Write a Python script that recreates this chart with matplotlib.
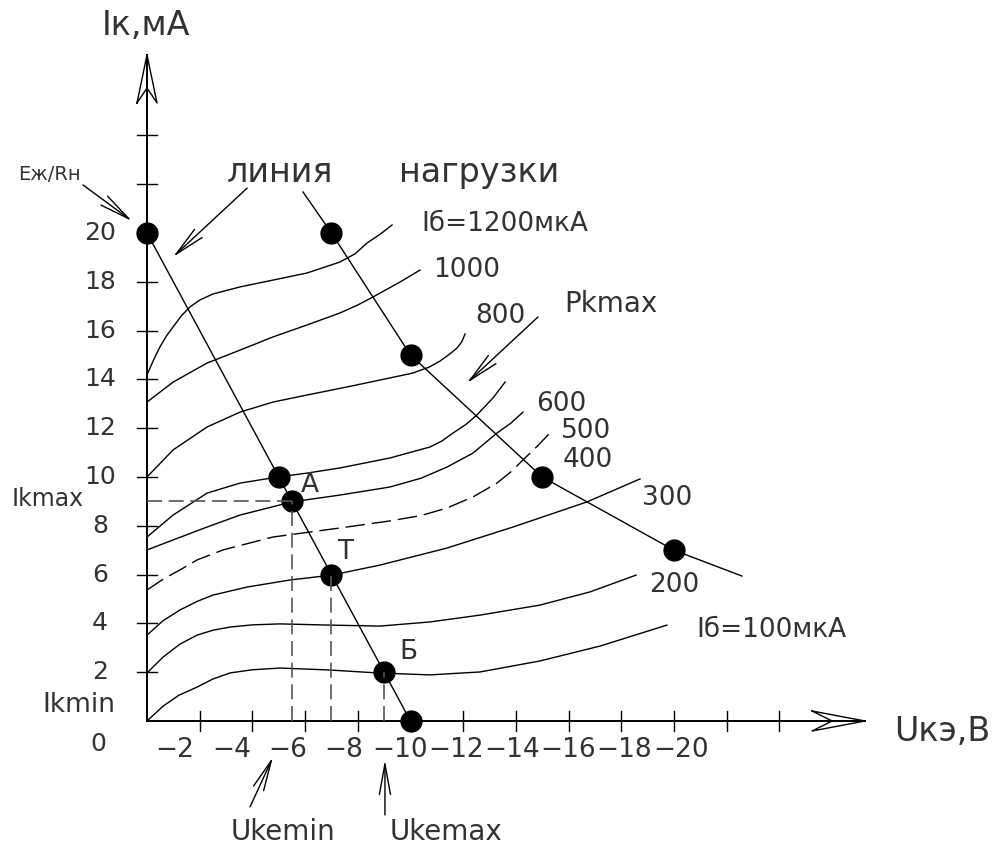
import numpy as np
import matplotlib.pyplot as plt

plt.rcParams['font.family'] = ['DejaVu Sans']

# output characteristics: |Uкэ| in V, Iк in mA, one pair per base current
u_100 = [0, 0.6, 1.2, 1.90, 2.5, 3.15, 4.0, 5.05, 6.94, 8.73, 10.74, 12.64, 14.91, 17.19, 19.73]
i_100 = [0, 0.6, 1.05, 1.39, 1.72, 1.97, 2.1, 2.17, 2.09, 1.97, 1.89, 2.01, 2.46, 3.07, 3.93]

u_200 = [0, 0.61, 1.25, 1.90, 2.5, 3.15, 4.0, 5.05, 6.94, 8.84, 10.74, 12.64, 14.91, 16.81, 18.56]
i_200 = [1.97, 2.62, 3.15, 3.52, 3.72, 3.85, 3.94, 3.98, 3.93, 3.89, 4.06, 4.34, 4.75, 5.29, 5.98]

u_300 = [0, 0.6, 1.25, 1.9, 2.50, 3.80, 5.43, 7.02, 8.84, 11.39, 13.89, 16.70, 18.71]
i_300 = [3.52, 4.1, 4.55, 4.9, 5.16, 5.49, 5.78, 5.98, 6.39, 7.09, 7.95, 8.98, 9.92]

u_400 = [0, 0.68, 1.25, 1.90, 2.88, 4.78, 7.32, 9.22, 10.4, 11.39, 12.4, 13.28, 13.8, 14.27, 14.8, 15.29]
i_400 = [5.37, 5.86, 6.19, 6.60, 7.01, 7.54, 7.91, 8.20, 8.42, 8.73, 9.2, 9.75, 10.2, 10.70, 11.25, 11.80]

u_500 = [0, 0.99, 2.28, 3.53, 5.50, 7.32, 9.22, 10.4, 11.39, 12.37, 13.28, 13.8, 14.27]
i_500 = [7.01, 7.42, 7.95, 8.44, 8.98, 9.26, 9.59, 9.95, 10.41, 10.98, 11.80, 12.2, 12.66]

u_600 = [0, 0.99, 2.28, 3.53, 4.97, 6.07, 7.32, 9.22, 10.74, 11.2, 11.61, 12.1, 12.52, 13.13, 13.59]
i_600 = [7.54, 8.44, 9.34, 9.75, 10.0, 10.16, 10.37, 10.78, 11.23, 11.48, 11.80, 12.15, 12.54, 13.24, 13.89]

u_800 = [0, 0.99, 2.28, 3.53, 4.78, 6.07, 7.59, 9.22, 10.09, 10.7, 11.12, 11.5, 11.77, 11.95, 12.07]
i_800 = [10.0, 11.11, 12.05, 12.66, 13.07, 13.36, 13.69, 14.06, 14.26, 14.5, 14.75, 15.05, 15.29, 15.55, 15.86]

u_1000 = [0, 0.99, 2.28, 3.53, 4.78, 6.07, 7.32, 8.0, 8.58, 9.60, 10.36]
i_1000 = [13.07, 13.89, 14.67, 15.20, 15.74, 16.23, 16.72, 17.05, 17.38, 17.99, 18.48]

u_1200 = [0, 0.25, 0.49, 0.75, 0.99, 1.3, 1.63, 2.0, 2.5, 3.53, 4.78, 6.07, 7.32, 7.9, 8.35, 8.85, 9.30]
i_1200 = [14.18, 14.8, 15.33, 15.8, 16.15, 16.6, 16.97, 17.25, 17.5, 17.79, 18.07, 18.36, 18.81, 19.15, 19.59, 19.95, 20.33]

# load line and its points (Eж/Rн, -, A, T, Б, Eж)
u_load = [0, 10]
i_load = [20, 0]
u_pts = [0, 5, 5.5, 7, 9, 10]
i_pts = [20, 10, 9, 6, 2, 0]

# Pkmax boundary
u_pk = [5.92, 7, 10, 15, 20, 22.58]
i_pk = [21.68, 20, 15, 10, 7, 5.94]

y_ticks = [2, 4, 6, 8, 10, 12, 14, 16, 18, 20, 22, 24]
y_labels = ['2', '4', '6', '8', '10', '12', '14', '16', '18', '20']
x_ticks = [2, 4, 6, 8, 10, 12, 14, 16, 18, 20, 22, 24]
x_labels = ['−2', '−4', '−6', '−8', '−10', '−12', '−14', '−16', '−18', '−20']

# pixel scale of the drawing
X0, Y0, SX, SY = 147, 721, 26.35, 24.4
W, H = 1002, 846

fig = plt.figure(figsize=(W / 100, H / 100), dpi=100)
ax = fig.add_axes([0, 0, 1, 1])
ax.set_xlim(-X0 / SX, (W - X0) / SX)
ax.set_ylim((Y0 - H) / SY, Y0 / SY)
ax.axis('off')

K = 'black'
TC = '#333333'
lw = 1.0

# axes with open arrow heads
ax.plot([0, 0], [0, 27.3], color=K, lw=1.4)
ax.plot([-0.38, 0, 0.38, 0, -0.38], [25.33, 27.3, 25.33, 25.94, 25.33], color=K, lw=1.0)
ax.plot([0, 27.25], [0, 0], color=K, lw=1.4)
ax.plot([25.24, 27.25, 25.24, 26.0, 25.24], [0.41, 0, -0.41, 0, 0.41], color=K, lw=1.0)

for t in y_ticks:
    ax.plot([-0.38, 0.38], [t, t], color=K, lw=1.0)
for t in x_ticks:
    ax.plot([t, t], [-0.41, 0.41], color=K, lw=1.0)

for lab, t in zip(y_labels, y_ticks):
    ax.text(-1.78, t, lab, fontsize=18, color=TC, ha='center', va='center')
ax.text(-1.86, -0.94, '0', fontsize=18, color=TC, ha='center', va='center')
for lab, t in zip(x_labels, x_ticks):
    ax.text((t - 1) * 1.066, -1.19, lab, fontsize=19, color=TC, ha='center', va='center')

# characteristics
for u, i in [(u_100, i_100), (u_200, i_200), (u_300, i_300), (u_500, i_500),
             (u_600, i_600), (u_800, i_800), (u_1000, i_1000), (u_1200, i_1200)]:
    ax.plot(u, i, color=K, lw=lw, solid_joinstyle='round')
ax.plot(u_400, i_400, color=K, lw=lw, dashes=(14, 5))

# load line, Pkmax line, points
ax.plot(u_load, i_load, color=K, lw=lw)
ax.plot(u_pk, i_pk, color=K, lw=lw)
ax.plot(u_pts, i_pts, 'o', color=K, ms=15, mec=K)
ax.plot(u_pk[1:-1], i_pk[1:-1], 'o', color=K, ms=15, mec=K)

# projections of A, T, Б
DC = '#555555'
ax.plot([0, u_pts[2]], [i_pts[2], i_pts[2]], color=DC, lw=1.2, dashes=(9, 4))
for k in (2, 3, 4):
    ax.plot([u_pts[k], u_pts[k]], [0, i_pts[k]], color=DC, lw=1.2, dashes=(9, 4))

# texts
ax.text(-0.04, 28.52, 'Iк,мА', fontsize=24, color=TC, ha='center', va='center')
ax.text(30.17, -0.41, 'Uкэ,В', fontsize=24, color=TC, ha='center', va='center')
ax.text(-3.72, 22.38, 'Eж/Rн', fontsize=14, color=TC, ha='center', va='center')
ax.text(5.05, 22.50, 'линия', fontsize=24, color=TC, ha='center', va='center')
ax.text(12.60, 22.46, 'нагрузки', fontsize=24, color=TC, ha='center', va='center')
ax.text(17.61, 17.09, 'Pkmax', fontsize=20, color=TC, ha='center', va='center')

curve_labels = [('Iб=1200мкА', 13.59, 20.37), ('1000', 12.14, 18.48), ('800', 13.40, 16.60),
                ('600', 15.71, 12.99), ('500', 16.66, 11.89), ('400', 16.74, 10.70),
                ('300', 19.73, 9.14), ('200', 20.0, 5.57), ('Iб=100мкА', 23.68, 3.73)]
for lab, x, y in curve_labels:
    ax.text(x, y, lab, fontsize=19, color=TC, ha='center', va='center')

ax.text(6.19, 9.67, 'A', fontsize=19, color=TC, ha='center', va='center')
ax.text(7.51, 6.93, 'T', fontsize=19, color=TC, ha='center', va='center')
ax.text(9.91, 2.83, 'Б', fontsize=19, color=TC, ha='center', va='center')
ax.text(-3.76, 9.1, 'Ikmax', fontsize=17, color=TC, ha='center', va='center')
ax.text(-2.58, 0.66, 'Ikmin', fontsize=19, color=TC, ha='center', va='center')
ax.text(5.16, -4.55, 'Ukemin', fontsize=20, color=TC, ha='center', va='center')
ax.text(11.35, -4.55, 'Ukemax', fontsize=20, color=TC, ha='center', va='center')

# pointer arrows
arrows = [((-2.43, 21.97), (-0.57, 20.49)), ((3.80, 21.84), (0.99, 19.02)),
          ((14.84, 16.56), (12.14, 13.85)), ((3.91, -3.52), (4.78, -1.48)),
          ((9.03, -3.85), (9.03, -1.60))]
for tail, tip in arrows:
    ax.annotate('', xy=tip, xytext=tail,
                arrowprops=dict(arrowstyle='->,head_length=1.1,head_width=0.2',
                                color=K, lw=1.0, shrinkA=0, shrinkB=0, mutation_scale=20))

fig.savefig('out.png', dpi=100)
